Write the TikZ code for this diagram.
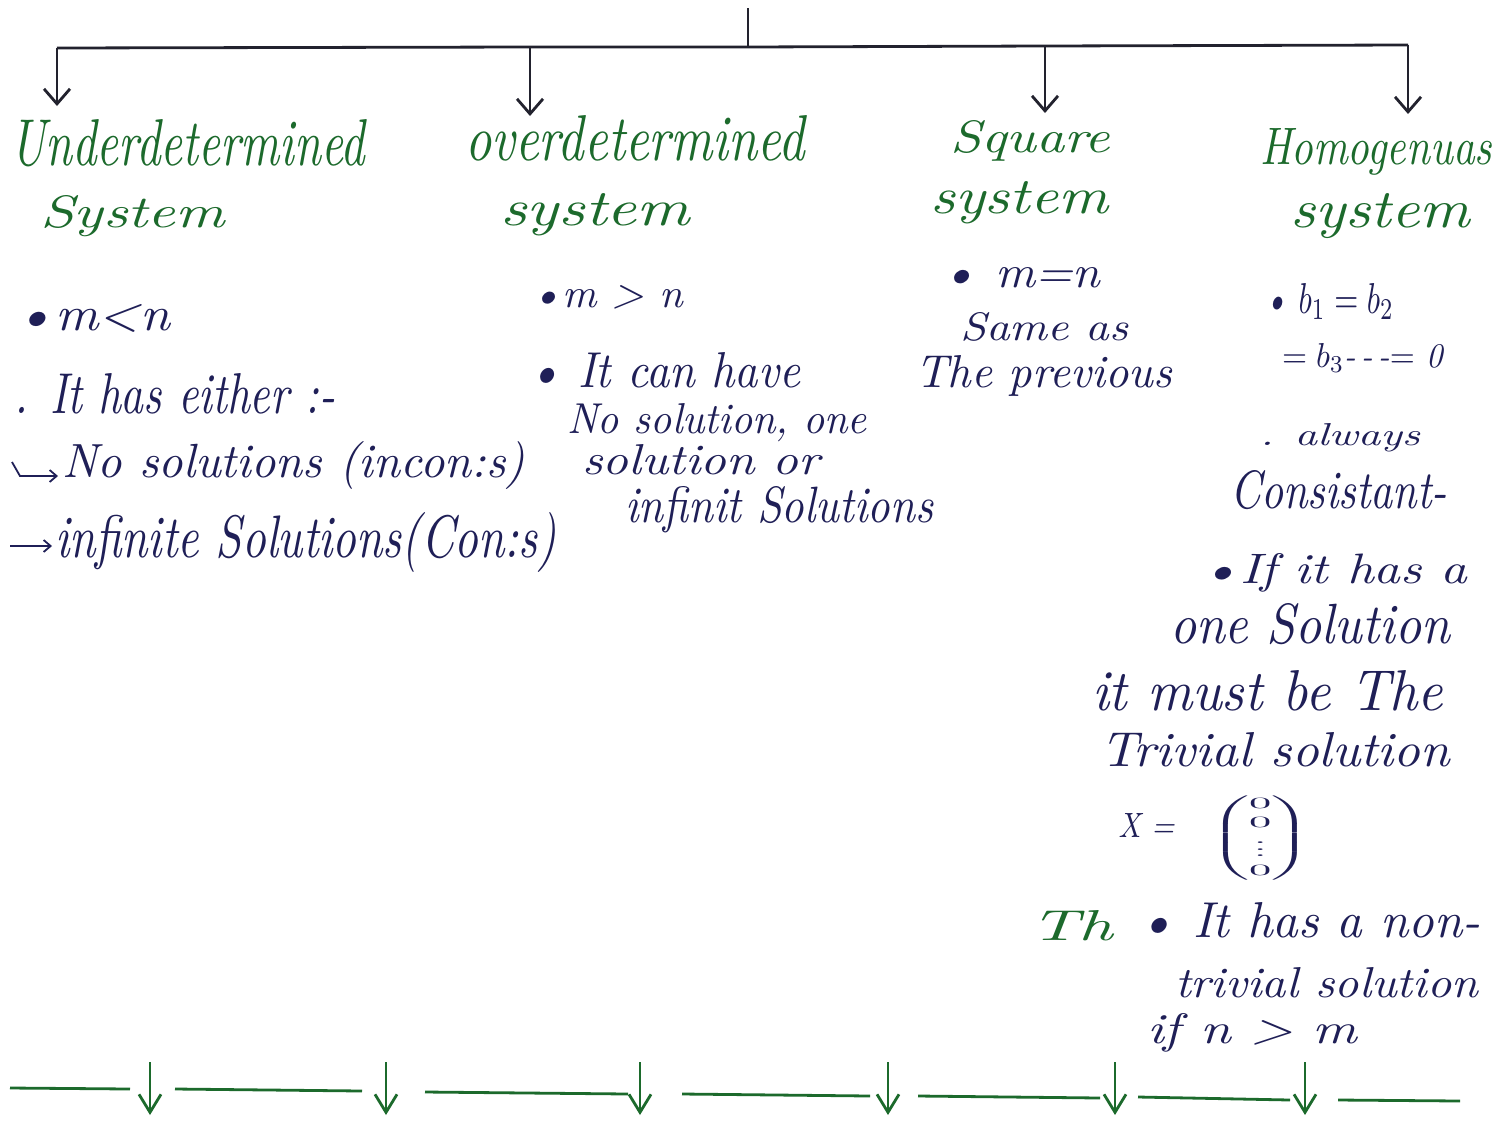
\documentclass[tikz,border=0pt]{standalone}
\usepackage{fontspec}
\usepackage{amsmath}
\usetikzlibrary{arrows.meta}
\definecolor{ink}{HTML}{1F1F57}
\definecolor{pen}{HTML}{1C6A2C}
\definecolor{tree}{HTML}{22222E}
\newcommand\hw[3]{\resizebox{#1pt}{#2pt}{\itshape #3}}
\begin{document}
\begin{tikzpicture}[x=1pt,y=-1pt,
  txt/.style={anchor=base west, inner sep=0pt, outer sep=0pt},
  head/.style={txt, text=pen},
  note/.style={txt, text=ink},
  treeline/.style={line width=2.8pt, draw=tree},
  treearrow/.style={treeline, -{Straight Barb[length=15pt,width=26pt]}},
  greenline/.style={line width=2.8pt, draw=pen},
  greenarrow/.style={greenline, -{Straight Barb[length=18pt,width=22pt]}},
  inkarrow/.style={line width=1.8pt, draw=ink, -{Straight Barb[length=7pt,width=12pt]}}]
\useasboundingbox[fill=white] (0,0) rectangle (1495,1122);

% ---- top tree
\coordinate (root) at (748,8);
\coordinate (rootb) at (748,47);
\coordinate (b1) at (57,48);
\coordinate (b2) at (530,47);
\coordinate (b3) at (1045,46);
\coordinate (b4) at (1408,45);
\coordinate (t1) at (57,106);
\coordinate (t2) at (530,116);
\coordinate (t3) at (1045,113);
\coordinate (t4) at (1408,114);
\draw[treeline] (root) -- (rootb);
\draw[treeline] (b1) -- (b2) -- (rootb) -- (b3) -- (b4);
\draw[treearrow] (b1) -- (t1);
\draw[treearrow] (b2) -- (t2);
\draw[treearrow] (b3) -- (t3);
\draw[treearrow] (b4) -- (t4);

% ---- headings
\node[head] (u1) at (10,165) {\hw{355}{46}{Underdetermined}};
\node[head] (u2) at (40,227) {\hw{185}{32}{System}};
\node[head] (o1) at (465,160) {\hw{340}{45}{overdetermined}};
\node[head] (o2) at (500,225) {\hw{190}{32}{system}};
\node[head] (s1) at (950,152) {\hw{160}{32}{Square}};
\node[head] (s2) at (930,213) {\hw{178}{32}{system}};
\node[head] (h1) at (1260,164) {\hw{232}{36}{Homogenuas}};
\node[head] (h2) at (1290,227) {\hw{180}{34}{system}};

% ---- underdetermined column
\node[note] (a1) at (15,330) {\hw{155}{26}{\textbullet m<n}};
\node[note] (a2) at (15,413) {\hw{320}{40}{. It has either :-}};
\coordinate (ar1s) at (12,462);
\coordinate (ar1m) at (20,476);
\coordinate (ar1e) at (58,476);
\draw[inkarrow] (ar1s) -- (ar1m) -- (ar1e);
\node[note] (a3) at (62,477) {\hw{463}{36}{No solutions (incon:s)}};
\coordinate (ar2s) at (10,546);
\coordinate (ar2e) at (52,546);
\draw[inkarrow] (ar2s) -- (ar2e);
\node[note] (a4) at (55,557) {\hw{502}{45}{infinite Solutions(Con:s)}};

% ---- overdetermined column
\node[note] (c1) at (530,307) {\hw{153}{22}{\textbullet m > n}};
\node[note] (c2) at (527,387) {\hw{273}{35}{\textbullet\ It can have}};
\node[note] (c3) at (567,433) {\hw{300}{30}{No solution, one}};
\node[note] (c4) at (582,474) {\hw{238}{30}{solution or}};
\node[note] (c5) at (625,522) {\hw{308}{36}{infinit Solutions}};

% ---- square column
\node[note] (d1) at (940,287) {\hw{160}{20}{\textbullet\ m=n}};
\node[note] (d2) at (960,340) {\hw{168}{28}{Same as}};
\node[note] (d3) at (915,387) {\hw{257}{32}{The previous}};

% ---- homogeneous column
\node[note] (e1) at (1264,313) {\hw{130}{30}{\textbullet\ $b_1 = b_2$}};
\node[note] (e2) at (1282,367) {\hw{161}{24}{$=b_3$-\,-\,-$=$ 0}};
\node[note] (e3) at (1260,445) {\hw{160}{22}{. always}};
\node[note] (e4) at (1230,508) {\hw{217}{38}{Consistant-}};
\node[note] (e5) at (1200,583) {\hw{267}{30}{\textbullet If it has a}};
\node[note] (e6) at (1170,643) {\hw{280}{40}{one Solution}};
\node[note] (e7) at (1092,710) {\hw{351}{40}{it must be The}};
\node[note] (e8) at (1100,766) {\hw{350}{34}{Trivial solution}};
\node[note] (e9) at (1118,837) {\hw{57}{24}{X =}};
\node[anchor=west, inner sep=0pt, text=ink] (e10) at (1210,838)
  {\resizebox*{100pt}{86pt}{$\begin{pmatrix}0\\0\\\vdots\\0\end{pmatrix}$}};
\node[head] (th) at (1030,940) {\hw{83}{30}{Th}};
\node[note] (e11) at (1137,937) {\hw{343}{35}{\textbullet\ It has a non-}};
\node[note] (e12) at (1175,997) {\hw{303}{30}{trivial solution}};
\node[note] (e13) at (1147,1043) {\hw{210}{30}{if n > m}};

% ---- bottom green line
\coordinate (g0a) at (10,1088);   \coordinate (g0b) at (130,1089);
\coordinate (g1a) at (175,1089);  \coordinate (g1b) at (362,1091);
\coordinate (g2a) at (425,1092);  \coordinate (g2b) at (628,1094);
\coordinate (g3a) at (682,1094);  \coordinate (g3b) at (870,1096);
\coordinate (g4a) at (918,1096);  \coordinate (g4b) at (1100,1098);
\coordinate (g5a) at (1138,1097); \coordinate (g5b) at (1290,1100);
\coordinate (g6a) at (1338,1100); \coordinate (g6b) at (1460,1101);
\foreach \i in {0,...,6} \draw[greenline] (g\i a) -- (g\i b);
\foreach \xx [count=\k] in {150,386,640,888,1115,1305} {
  \coordinate (ga\k) at (\xx,1062);
  \coordinate (gb\k) at (\xx,1115);
  \draw[greenarrow] (ga\k) -- (gb\k);
}
\end{tikzpicture}
\end{document}
